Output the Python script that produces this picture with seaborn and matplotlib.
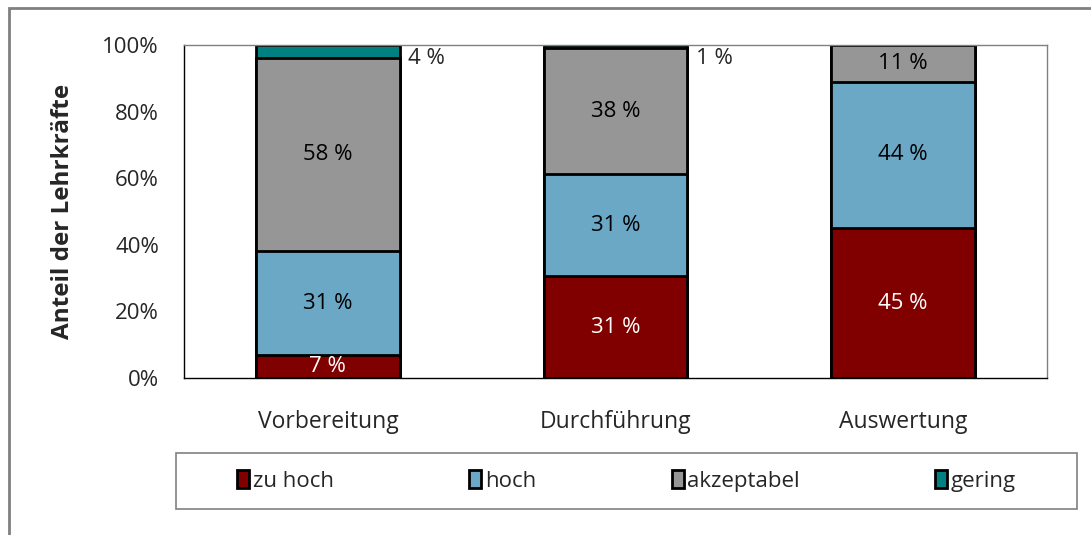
import numpy as np
import pandas as pd
import matplotlib as mpl
import matplotlib.pyplot as plt
import seaborn as sns
from matplotlib.patches import Rectangle
from matplotlib.ticker import FixedLocator

phasen = ["Vorbereitung", "Durchführung", "Auswertung"]
stufen = ["zu hoch", "hoch", "akzeptabel", "gering"]
zu_hoch = [7, 30.6, 45]
hoch = [31, 30.6, 44]
akzeptabel = [58, 37.8, 11]
gering = [4, 1, 0]
farben = ["#800000", "#6AA8C6", "#969696", "#008080"]

sns.set_style("white")
plt.rcParams['font.family'] = ['Open Sans', 'DejaVu Sans']

werte = pd.DataFrame({"zu hoch": zu_hoch, "hoch": hoch, "akzeptabel": akzeptabel, "gering": gering},
                     index=phasen)
kum = werte.cumsum(axis=1)

fig = plt.figure(figsize=(10.91, 5.35), dpi=100)
ax = fig.add_axes([0.1687, 0.2935, 0.7910, 0.6224])

# oberste Stufe zuerst, die unteren werden darüber gezeichnet
for stufe, farbe in reversed(list(zip(stufen, farben))):
    df = pd.DataFrame({"Phase": phasen, "Wert": kum[stufe].values})
    sns.barplot(data=df, x="Phase", y="Wert", color=farbe, width=0.5,
                edgecolor="black", linewidth=2, saturation=1, ax=ax, label=stufe)

handles, labels = ax.get_legend_handles_labels()
if ax.get_legend() is not None:
    ax.get_legend().remove()

# Beschriftungen
for i, phase in enumerate(phasen):
    unten = 0
    for stufe in stufen:
        v = werte.loc[phase, stufe]
        if v <= 0:
            continue
        txt = f"{round(v):d} %"
        if stufe == "gering":
            ax.text(i + 0.28, unten + v - 4, txt, ha="left", va="center", fontsize=16)
        else:
            col = "white" if stufe == "zu hoch" else "black"
            ax.text(i, unten + v / 2, txt, ha="center", va="center", fontsize=16, color=col)
        unten += v

ax.set_ylim(0, 100)
ax.set_xlim(-0.5, 2.5)
ax.set_yticks([0, 20, 40, 60, 80, 100])
ax.set_yticklabels([f"{t}%" for t in range(0, 101, 20)], fontsize=16)
ax.tick_params(axis="y", length=0, pad=18)
ax.tick_params(axis="x", which="major", length=0, pad=23, labelsize=16.5)
ax.xaxis.set_minor_locator(FixedLocator([-0.5, 0.5, 1.5, 2.5]))
ax.tick_params(axis="x", which="minor", length=6, width=1, color="black", direction="out")
ax.set_xlabel("")
ax.set_ylabel("Anteil der Lehrkräfte", fontsize=17.5, fontweight="bold", labelpad=20)

for s in ["left", "bottom"]:
    ax.spines[s].set_color("black")
    ax.spines[s].set_linewidth(1)
for s in ["top", "right"]:
    ax.spines[s].set_color("#808080")
    ax.spines[s].set_linewidth(1)
    ax.spines[s].set_visible(True)

# Legende mit eigenem Rahmen
box = (176 / 1091, 1 - 509 / 535, 901 / 1091, 56 / 535)
fig.patches.append(Rectangle(box[:2], box[2], box[3], transform=fig.transFigure,
                             fill=False, edgecolor="#808080", linewidth=1.2))
order = [labels.index(s) for s in stufen]
leg = fig.legend([handles[k] for k in order], stufen, ncol=4,
                 bbox_to_anchor=box, loc="center",
                 fontsize=16, frameon=False,
                 handlelength=0.55, handleheight=0.85, handletextpad=0.15, columnspacing=6.1)

# äußerer Rahmen
fig.patches.append(Rectangle((9 / 1091, -0.2), 1.2, 1.2 - 8 / 535, transform=fig.transFigure,
                             fill=False, edgecolor="#808080", linewidth=2))

fig.savefig("out.png", dpi=100)
